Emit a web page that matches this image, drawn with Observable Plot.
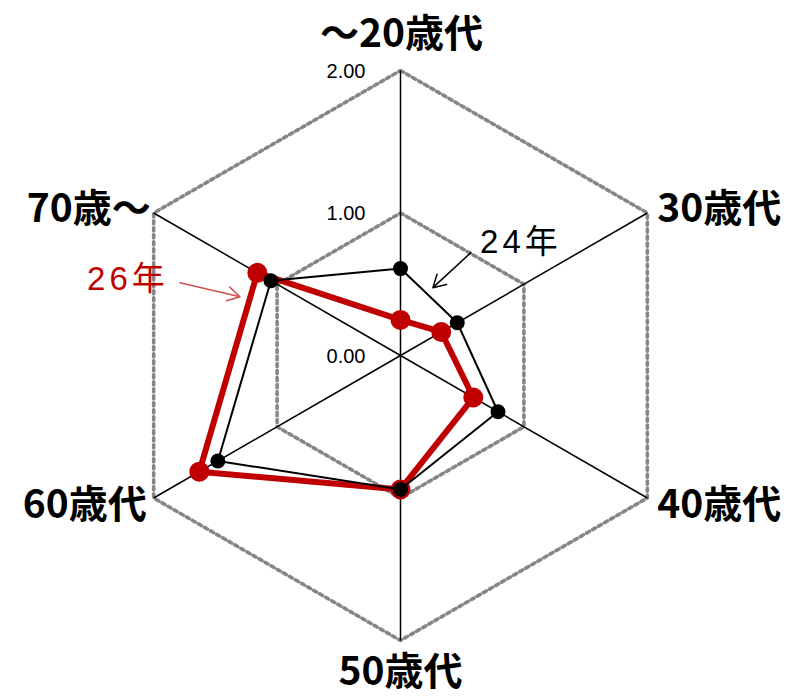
<!DOCTYPE html>
<html>
<head>
<meta charset="utf-8">
<script src="https://cdn.jsdelivr.net/npm/d3@7"></script>
<script src="https://cdn.jsdelivr.net/npm/@observablehq/plot@0.6"></script>
<style>
  html, body { margin: 0; padding: 0; background: #fff; }
</style>
</head>
<body>
<div id="chart"></div>
<script>
// Age groups around the radar, clockwise from the top
const categories = ["～20歳代", "30歳代", "40歳代", "50歳代", "60歳代", "70歳～"];
// Index values per age group
const values24 = [0.61, 0.46, 0.79, 0.94, 1.48, 1.05];
const values26 = [0.25, 0.33, 0.59, 0.94, 1.63, 1.16];
const seriesNames = ["24年", "26年"];
// Radial grid rings and their labels
const gridTicks = [0, 1, 2];
const tickLabels = ["0.00", "1.00", "2.00"];

const W = 790, H = 699;
const cx = 400, cy = 355;          // centre of the radar in pixels
const rMax = 2;
const K = 285 / rMax;              // pixels per unit

const n = categories.length;
const ang = i => i * 2 * Math.PI / n;
const px = (r, i) => r * Math.sin(ang(i));
const py = (r, i) => r * Math.cos(ang(i));
const toPts = (vals, s) => vals.map((v, i) => ({series: s, cat: categories[i], x: px(v, i), y: py(v, i)}));

const pts24 = toPts(values24, seriesNames[0]);
const pts26 = toPts(values26, seriesNames[1]);

// hexagonal rings for the non-zero ticks
const rings = gridTicks.filter(t => t > 0).flatMap(t => categories.map((c, i) => ({t, x: px(t, i), y: py(t, i)})));
const spokes = categories.map((c, i) => ({x1: 0, y1: 0, x2: px(rMax, i), y2: py(rMax, i)}));

// pixel offset -> data offset
const off = (p, dxp, dyp) => ({x: p.x + dxp / K, y: p.y - dyp / K});
const along = (a, b, t) => ({x: a.x + (b.x - a.x) * t, y: a.y + (b.y - a.y) * t});

// callouts pointing at each series' outline
const tip24 = off(along(pts24[0], pts24[1], 0.5), 4, -8);
const tail24 = off(tip24, 38, -35);
const lab24 = off(tip24, 88, -45);
const tip26 = off(along(pts26[5], pts26[4], 0.11), -11, 2);
const tail26 = off(tip26, -60, -14);
const lab26 = off(tip26, -112, -17);

// placement of the category labels around the outer ring
const labelLayout = [
  {anchor: "middle", dx: 1, dy: -36},
  {anchor: "start", dx: 10, dy: -3},
  {anchor: "start", dx: 10, dy: 8},
  {anchor: "middle", dx: 0, dy: 32},
  {anchor: "end", dx: -7, dy: 8},
  {anchor: "end", dx: -3, dy: -3}
];
const jp = "'Noto Sans CJK JP', 'Noto Sans', sans-serif";
const latin = "'Liberation Sans', Arial, 'Noto Sans CJK JP', sans-serif";

const red = "#c00000";

const chart = Plot.plot({
  width: W,
  height: H,
  margin: 0,
  x: {domain: [-cx / K, (W - cx) / K], axis: null},
  y: {domain: [-(H - cy) / K, cy / K], axis: null},
  style: {background: "#fff", overflow: "visible"},
  marks: [
    Plot.line(rings, {x: "x", y: "y", z: "t", curve: "linear-closed", stroke: "#868686", strokeWidth: 3.6, strokeDasharray: "3.3,3.7"}),
    Plot.link(spokes, {x1: "x1", y1: "y1", x2: "x2", y2: "y2", stroke: "#000", strokeWidth: 1.5}),
    Plot.text(gridTicks, {x: () => 0, y: d => d, text: (d, i) => tickLabels[i], textAnchor: "end", dx: -35, dy: 1, fontSize: 20, fontFamily: latin, fill: "#000"}),
    Plot.line(pts26, {x: "x", y: "y", curve: "linear-closed", stroke: red, strokeWidth: 6}),
    Plot.dot(pts26, {x: "x", y: "y", r: 10, fill: red, stroke: "none"}),
    Plot.line(pts24, {x: "x", y: "y", curve: "linear-closed", stroke: "#000", strokeWidth: 2}),
    Plot.dot(pts24, {x: "x", y: "y", r: 7.5, fill: "#000", stroke: "none"}),
    ...categories.map((c, i) => Plot.text([c], {
      x: () => px(rMax, i), y: () => py(rMax, i), text: d => d,
      textAnchor: labelLayout[i].anchor, dx: labelLayout[i].dx, dy: labelLayout[i].dy,
      fontSize: 39, fontWeight: "bold", fontFamily: jp, fill: "#000"
    })),
    Plot.arrow([0], {x1: () => tail24.x, y1: () => tail24.y, x2: () => tip24.x, y2: () => tip24.y, stroke: "#000", strokeWidth: 1.5, headLength: 14}),
    Plot.text([seriesNames[0]], {x: () => lab24.x, y: () => lab24.y, text: d => d, fontSize: 33, fontFamily: latin, fill: "#000"}),
    Plot.arrow([0], {x1: () => tail26.x, y1: () => tail26.y, x2: () => tip26.x, y2: () => tip26.y, stroke: "#d0504d", strokeWidth: 1.5, headLength: 14}),
    Plot.text([seriesNames[1]], {x: () => lab26.x, y: () => lab26.y, text: d => d, fontSize: 33, fontFamily: latin, fill: red})
  ]
});
// spread the callout labels' characters a little
d3.select(chart).selectAll("text").filter(function() { return seriesNames.includes(this.textContent); })
  .style("letter-spacing", "4px");
document.getElementById("chart").append(chart);
</script>
</body>
</html>
